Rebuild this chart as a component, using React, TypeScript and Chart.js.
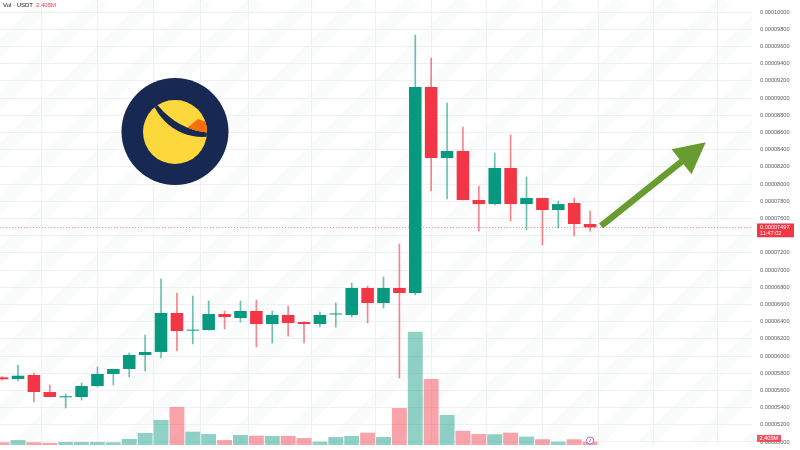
import { useEffect, useRef } from "react";
import { Chart, registerables } from "chart.js";

Chart.register(...registerables);

// Candle index (x position in bars), -1 is the partially visible first candle
const candleIdx = [-1, 0, 1, 2, 3, 4, 5, 6, 7, 8, 9, 10, 11, 12, 13, 14, 15, 16, 17, 18, 19, 20, 21, 22, 23, 24, 25, 26, 27, 28, 29, 30, 31, 32, 33, 34, 35, 36];
// Prices in units of 1e-8 USDT
const opens = [5752, 5733, 5779, 5581, 5520, 5523, 5651, 5791, 5849, 6012, 6047, 6500, 6295, 6302, 6488, 6442, 6523, 6372, 6477, 6395, 6372, 6483, 6477, 6791, 6616, 6791, 6733, 9128, 8302, 8384, 7814, 7767, 8186, 7767, 7837, 7698, 7779, 7535];
const highs = [5760, 5895, 5802, 5663, 5558, 5686, 5872, 5849, 6035, 6244, 6895, 6733, 6698, 6640, 6523, 6640, 6651, 6523, 6581, 6400, 6512, 6616, 6849, 6814, 6919, 7302, 9733, 9465, 8942, 8663, 7977, 8360, 8570, 8081, 7837, 7802, 7837, 7686];
const lows = [5720, 5709, 5465, 5523, 5395, 5488, 5640, 5663, 5756, 5826, 5977, 6058, 6140, 6300, 6314, 6395, 6105, 6151, 6233, 6151, 6337, 6337, 6453, 6384, 6558, 5744, 6709, 7919, 7826, 7814, 7453, 7756, 7570, 7465, 7291, 7488, 7395, 7453];
const closes = [5729, 5771, 5581, 5523, 5527, 5651, 5791, 5849, 6012, 6047, 6500, 6291, 6305, 6488, 6453, 6523, 6372, 6477, 6384, 6372, 6477, 6492, 6791, 6616, 6791, 6733, 9128, 8302, 8384, 7814, 7767, 8186, 7767, 7837, 7698, 7767, 7535, 7497];
// Volume in millions of USDT
const volumes = [2.0, 3.6, 2.0, 1.5, 2.2, 2.2, 2.2, 2.0, 4.4, 8.8, 18.3, 27.7, 9.7, 8.0, 3.6, 7.3, 6.8, 6.6, 6.6, 5.1, 2.4, 5.8, 6.6, 9.0, 5.8, 27.0, 82.7, 48.2, 21.9, 10.4, 8.0, 7.8, 9.0, 6.1, 4.2, 2.4, 4.2, 2.405];

// Price axis tick labels (units of 1e-8)
const priceTicks = [5000, 5200, 5400, 5600, 5800, 6000, 6200, 6400, 6600, 6800, 7000, 7200, 7400, 7600, 7800, 8000, 8200, 8400, 8600, 8800, 9000, 9200, 9400, 9600, 9800, 10000];
// Time grid lines (candle indices)
const timeGrid = [0, 3, 7, 10, 13, 16, 21, 24, 28, 31, 35, 38, 42];

// Trend arrow in data coordinates [index, price]
const arrowFrom = [36.69, 7512];
const arrowTo = [43.28, 8485];

const lastTime = "11:47:02";

const GREEN = "#089981";
const RED = "#f23645";
const FONT = "'Liberation Sans', Arial, sans-serif";

const fmt = (v: number) => (v / 1e8).toFixed(8);

export default function App() {
  const ref = useRef<HTMLCanvasElement | null>(null);

  useEffect(() => {
    document.body.style.margin = "0";
    const canvas = ref.current;
    if (!canvas) return;

    const up = opens.map((o, k) => closes[k] >= o);
    const bodyColors = up.map((u) => (u ? GREEN : RED));
    const wickColors = up.map((u) => (u ? "rgba(8,153,129,0.6)" : "rgba(242,54,69,0.6)"));
    const volColors = up.map((u) => (u ? "rgba(8,153,129,0.45)" : "rgba(242,54,69,0.45)"));
    const lastClose = closes[closes.length - 1];
    const lastVol = volumes[volumes.length - 1];

    const overlay = {
      id: "overlay",
      beforeDraw(chart: any) {
        const { ctx, chartArea: a } = chart;
        ctx.save();
        ctx.fillStyle = "#ffffff";
        ctx.fillRect(0, 0, chart.width, chart.height);
        // faint diagonal background stripes
        ctx.beginPath();
        ctx.rect(a.left, a.top, a.right - a.left, a.bottom - a.top);
        ctx.clip();
        ctx.strokeStyle = "rgba(20,30,60,0.018)";
        ctx.lineWidth = 14;
        for (let s = -500; s < 1300; s += 52) {
          ctx.beginPath();
          ctx.moveTo(s, a.bottom);
          ctx.lineTo(s + (a.bottom - a.top), a.top);
          ctx.stroke();
        }
        ctx.restore();
      },
      beforeDatasetsDraw(chart: any) {
        const { ctx, chartArea: a, scales } = chart;
        const y = Math.round(scales.y.getPixelForValue(lastClose)) + 0.5;
        ctx.save();
        ctx.strokeStyle = "rgba(242,54,69,0.55)";
        ctx.lineWidth = 1;
        ctx.setLineDash([1, 2]);
        ctx.beginPath();
        ctx.moveTo(a.left, y);
        ctx.lineTo(a.right, y);
        ctx.stroke();
        ctx.restore();
      },
      afterDraw(chart: any) {
        const { ctx, chartArea: a, scales } = chart;
        const xs = scales.x;
        const ys = scales.y;
        const yv = scales.yv;
        ctx.save();

        // Logo
        ctx.beginPath();
        ctx.arc(175, 131.5, 53.5, 0, Math.PI * 2);
        ctx.fillStyle = "#172852";
        ctx.fill();
        ctx.save();
        ctx.beginPath();
        ctx.arc(175, 132, 32, 0, Math.PI * 2);
        ctx.clip();
        ctx.fillStyle = "#FCD83C";
        ctx.fillRect(135, 90, 85, 85);
        ctx.beginPath();
        ctx.arc(203, 83, 54, 0, Math.PI * 2);
        ctx.fillStyle = "#172852";
        ctx.fill();
        ctx.beginPath();
        ctx.arc(215, 60, 73, 0, Math.PI * 2);
        ctx.clip();
        ctx.fillStyle = "#FCD83C";
        ctx.fillRect(135, 90, 85, 85);
        ctx.beginPath();
        ctx.moveTo(187, 128);
        ctx.lineTo(198, 119);
        ctx.lineTo(212, 124);
        ctx.lineTo(212, 145);
        ctx.lineTo(187, 142);
        ctx.closePath();
        ctx.fillStyle = "#FA6E0A";
        ctx.fill();
        ctx.restore();

        // Arrow
        const sx = xs.getPixelForValue(arrowFrom[0]);
        const sy = ys.getPixelForValue(arrowFrom[1]);
        const tx = xs.getPixelForValue(arrowTo[0]);
        const ty = ys.getPixelForValue(arrowTo[1]);
        const len = Math.hypot(tx - sx, ty - sy);
        const ux = (tx - sx) / len;
        const uy = (ty - sy) / len;
        const nx = -uy;
        const ny = ux;
        const headLen = 31;
        const headHalf = 16;
        const bx = tx - ux * headLen;
        const by = ty - uy * headLen;
        ctx.strokeStyle = "#689c31";
        ctx.fillStyle = "#689c31";
        ctx.lineWidth = 6.5;
        ctx.lineCap = "butt";
        ctx.beginPath();
        ctx.moveTo(sx, sy);
        ctx.lineTo(bx + ux * 3, by + uy * 3);
        ctx.stroke();
        ctx.beginPath();
        ctx.moveTo(tx, ty);
        ctx.lineTo(bx + nx * headHalf, by + ny * headHalf);
        ctx.lineTo(bx - nx * headHalf, by - ny * headHalf);
        ctx.closePath();
        ctx.fill();

        // Current price label
        const py = ys.getPixelForValue(lastClose);
        ctx.fillStyle = RED;
        ctx.fillRect(a.right + 5, py - 3.8, 37, 13.8);
        ctx.fillStyle = "#ffffff";
        ctx.font = `5.6px ${FONT}`;
        ctx.textBaseline = "middle";
        ctx.textAlign = "left";
        ctx.fillText(fmt(lastClose), a.right + 8, py + 0.5);
        ctx.fillText(lastTime, a.right + 8, py + 6.6);

        // Volume label
        const vy = yv.getPixelForValue(lastVol) - 3.4;
        ctx.fillStyle = "rgba(242,54,69,0.85)";
        ctx.fillRect(a.right + 5, vy - 3.4, 24, 7);
        ctx.fillStyle = "#ffffff";
        ctx.fillText(lastVol.toFixed(3) + "M", a.right + 7.5, vy + 0.2);

        // Top-left legend
        ctx.font = `6px ${FONT}`;
        ctx.fillStyle = "#131722";
        ctx.fillText("Vol · USDT", a.left + 3, 5);
        ctx.fillStyle = RED;
        ctx.fillText(lastVol.toFixed(3) + "M", a.left + 36, 5);

        // Event icon
        const ix = xs.getPixelForValue(candleIdx[candleIdx.length - 1]);
        const iy = a.bottom - 4.5;
        ctx.beginPath();
        ctx.arc(ix, iy, 3.6, 0, Math.PI * 2);
        ctx.fillStyle = "#ffffff";
        ctx.fill();
        ctx.strokeStyle = "#a35bd6";
        ctx.lineWidth = 0.9;
        ctx.stroke();
        ctx.beginPath();
        ctx.moveTo(ix + 0.8, iy - 1.8);
        ctx.lineTo(ix - 0.8, iy + 1.8);
        ctx.stroke();

        ctx.restore();
      },
    };

    const chart = new Chart(canvas, {
      type: "bar",
      data: {
        datasets: [
          {
            label: "body",
            data: candleIdx.map((x, k) => ({ x, y: [opens[k], closes[k]] })) as any,
            backgroundColor: bodyColors,
            barPercentage: 0.79,
            categoryPercentage: 1,
            grouped: false,
            minBarLength: 1,
            yAxisID: "y",
            order: 1,
          } as any,
          {
            label: "wick",
            data: candleIdx.map((x, k) => ({ x, y: [lows[k], highs[k]] })) as any,
            backgroundColor: wickColors,
            barThickness: 1,
            grouped: false,
            yAxisID: "y",
            order: 2,
          } as any,
          {
            label: "volume",
            data: candleIdx.map((x, k) => ({ x, y: volumes[k] })) as any,
            backgroundColor: volColors,
            barPercentage: 0.94,
            categoryPercentage: 1,
            grouped: false,
            yAxisID: "yv",
            order: 3,
          } as any,
        ],
      },
      options: {
        animation: false,
        responsive: false,
        maintainAspectRatio: false,
        layout: { padding: { left: 0, right: 0, top: 0, bottom: 5 } },
        plugins: { legend: { display: false }, tooltip: { enabled: false } },
        scales: {
          x: {
            type: "linear",
            min: -1.133,
            max: 46.19,
            offset: false,
            border: { display: false },
            grid: { color: "#eff0f3", drawTicks: false },
            ticks: { display: false },
            afterBuildTicks: (s: any) => {
              s.ticks = timeGrid.map((v) => ({ value: v }));
            },
            afterFit: (s: any) => {
              s.height = 0;
              s.paddingLeft = 0;
              s.paddingRight = 0;
            },
          },
          y: {
            type: "linear",
            position: "right",
            min: 4965,
            max: 10140,
            border: { display: false },
            grid: { color: "#eff0f3", drawTicks: false },
            afterBuildTicks: (s: any) => {
              s.ticks = priceTicks.map((v) => ({ value: v }));
            },
            afterFit: (s: any) => {
              s.width = 48;
              s.paddingTop = 0;
              s.paddingBottom = 0;
            },
            ticks: {
              crossAlign: "near",
              padding: 8,
              color: "#5d606b",
              font: { family: FONT, size: 5.6 },
              callback: (v: any) => fmt(Number(v)),
            },
          },
          yv: {
            type: "linear",
            display: false,
            min: 0,
            max: 324.8,
          },
        },
      } as any,
      plugins: [overlay],
    });

    return () => chart.destroy();
  }, []);

  return (
    <div style={{ width: 800, height: 450, background: "#ffffff" }}>
      <canvas ref={ref} width={800} height={450} style={{ display: "block" }} />
    </div>
  );
}
